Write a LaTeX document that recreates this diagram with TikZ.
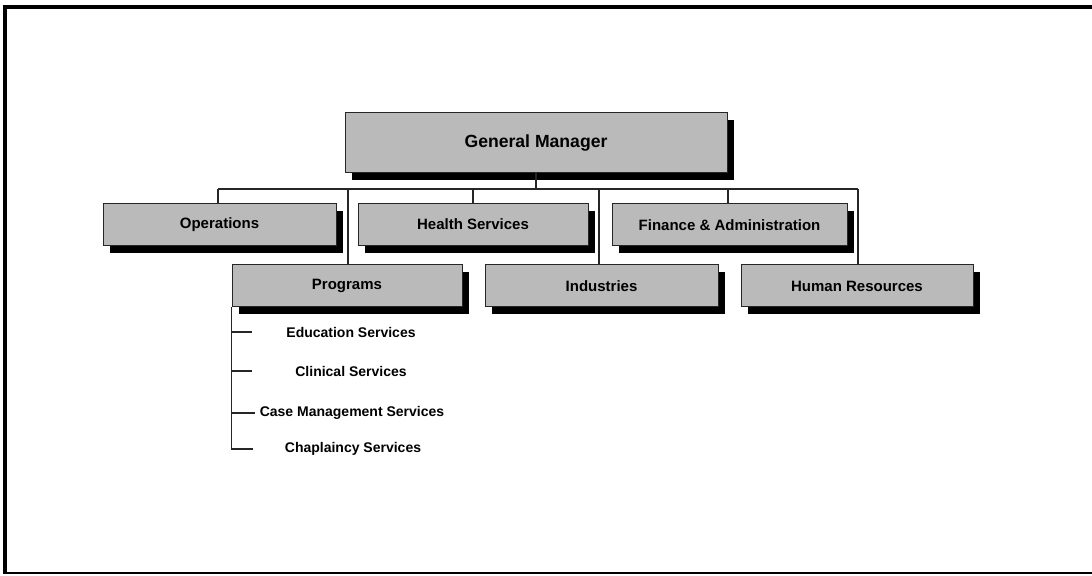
\documentclass[tikz,border=0pt]{standalone}
\usepackage{fontspec}
\setmainfont{Liberation Sans}
\usetikzlibrary{shadows}
\begin{document}
\begin{tikzpicture}[x=0.5pt,y=-0.5pt,
  orgbox/.style={draw=black!85, line width=0.5pt, fill=black!27, inner sep=0pt,
    minimum height=21pt, font=\fontsize{7.5}{9}\selectfont\bfseries,
    drop shadow={shadow xshift=3.5pt, shadow yshift=-3.7pt, fill=black, opacity=1}},
  topbox/.style={orgbox, minimum height=30pt, font=\fontsize{8.8}{10}\selectfont\bfseries},
  subitem/.style={inner sep=0pt, font=\fontsize{7}{8}\selectfont\bfseries},
  conn/.style={draw=black!85, line width=0.55pt}]
\useasboundingbox (0,0) rectangle (1092,576);
% frame
\draw[line width=1.6pt] (5,574) -- (5,7) -- (1092,7);
\draw[line width=1pt] (5,573.5) -- (1092,573.5);
% boxes
\node[topbox, minimum width=191pt] (gm) at (536,143) {General Manager};
\node[orgbox, minimum width=116.5pt] (ops) at (219.5,224.5) {Operations};
\node[orgbox, minimum width=115pt] (hs) at (473,224.5) {Health Services};
\node[orgbox, minimum width=117.5pt] (fa) at (729.5,225) {Finance \& Administration};
\node[orgbox, minimum width=115pt] (prog) at (347,286) {Programs};
\node[orgbox, minimum width=116.5pt] (ind) at (601.5,286) {Industries};
\node[orgbox, minimum width=116pt] (hr) at (857,286) {Human Resources};
% bus
\coordinate (busL) at (218,189);
\coordinate (busR) at (858,189);
\draw[conn] (busL) -- (busR);
\draw[conn] (gm.south) -- (gm.south |- busL);
\draw[conn] (ops.north -| busL) -- (busL);
\draw[conn] (hs.north) -- (hs.north |- busL);
\draw[conn] (fa.north -| 728,0) -- (728,189);
\draw[conn] (348,189) -- (348,265);
\draw[conn] (599,189) -- (599,265);
\draw[conn] (busR) -- (858,265);
% sub items
\node[subitem] (ed) at (351,332) {Education Services};
\node[subitem] (cl) at (351,371) {Clinical Services};
\node[subitem] (cm) at (352,413) {Case Management Services};
\node[subitem] (ch) at (353,449) {Chaplaincy Services};
\coordinate (e1) at (252,332);
\coordinate (e2) at (252,371);
\coordinate (e3) at (255,413);
\coordinate (e4) at (253,449);
\draw[conn] (prog.south west) |- (e4);
\draw[conn] (e1 -| prog.south west) -- (e1);
\draw[conn] (e2 -| prog.south west) -- (e2);
\draw[conn] (e3 -| prog.south west) -- (e3);
\end{tikzpicture}
\end{document}
